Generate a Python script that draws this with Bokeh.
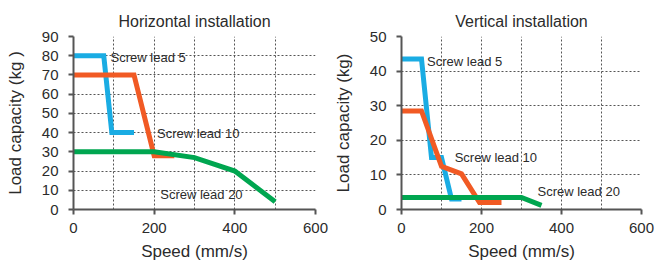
from bokeh.plotting import figure
from bokeh.layouts import row
from bokeh.models import Label, FixedTicker, Range1d
from bokeh.embed import file_html
from bokeh.resources import INLINE

# ---- data ----
# Horizontal installation
h_lead5_x = [0, 75, 95, 150]
h_lead5_y = [80, 80, 40, 40]
h_lead10_x = [0, 150, 200, 250]
h_lead10_y = [70, 70, 28, 28]
h_lead20_x = [0, 200, 300, 400, 500]
h_lead20_y = [30, 30, 27, 20, 4]

# Vertical installation
v_lead5_x = [0, 50, 75, 100, 125, 150]
v_lead5_y = [43.5, 43.5, 15, 15, 3, 3]
v_lead10_x = [0, 50, 100, 150, 195, 250]
v_lead10_y = [28.5, 28.5, 12.5, 10.3, 2, 2]
v_lead20_x = [0, 300, 350]
v_lead20_y = [3.5, 3.5, 1.2]

series_names = ["Screw lead 5", "Screw lead 10", "Screw lead 20"]
colors = ["#1aace3", "#f15a24", "#00a650"]

x_ticks = [0, 200, 400, 600]
x_grid = [100, 200, 300, 400, 500, 600]
h_y_ticks = [0, 10, 20, 30, 40, 50, 60, 70, 80, 90]
v_y_ticks = [0, 10, 20, 30, 40, 50]

# label anchor positions (data coords)
h_label_pos = [(92, 79), (207, 39.7), (215, 7.6)]
v_label_pos = [(64, 42.9), (133, 15.1), (340, 5.2)]

FONT = "Liberation Sans"
TXT = "#2b2b2b"


def make_fig(title, ylabel, ymax, yticks, xs, ys, label_pos, width, mbl, mbr, mbt, mbb):
    p = figure(width=width, height=266, output_backend="svg", toolbar_location=None,
               x_range=Range1d(0, 600), y_range=Range1d(0, ymax),
               min_border_left=mbl, min_border_right=mbr, min_border_top=mbt,
               min_border_bottom=mbb)
    p.title.text = title
    p.title.align = "center"
    p.title.text_font = FONT
    p.title.text_font_size = "16px"
    p.title.text_font_style = "normal"
    p.title.text_color = TXT
    p.title.standoff = 13
    p.title.text_line_height = 0.6
    p.outline_line_color = None
    p.background_fill_color = "white"

    for ax in (p.xaxis[0], p.yaxis[0]):
        ax.axis_line_color = "#555555"
        ax.axis_line_width = 2
        ax.major_tick_line_color = "#555555"
        ax.major_tick_line_width = 2
        ax.major_tick_out = 5
        ax.major_tick_in = 0
        ax.minor_tick_line_color = None
        ax.major_label_text_font = FONT
        ax.major_label_text_font_size = "15px"
        ax.major_label_text_color = TXT
        ax.axis_label_text_font = FONT
        ax.axis_label_text_font_size = "17px"
        ax.axis_label_text_font_style = "normal"
        ax.axis_label_text_color = TXT

    p.xaxis.ticker = FixedTicker(ticks=x_ticks)
    p.yaxis.ticker = FixedTicker(ticks=yticks)
    p.xaxis.axis_label = "Speed (mm/s)"
    p.yaxis.axis_label = ylabel
    p.xaxis.major_label_standoff = 8
    p.xaxis.axis_label_standoff = 6
    p.yaxis.major_label_standoff = 10
    p.yaxis.axis_label_standoff = 14

    p.xgrid.ticker = FixedTicker(ticks=x_grid)
    p.ygrid.ticker = FixedTicker(ticks=yticks[1:])
    for g in (p.xgrid[0], p.ygrid[0]):
        g.grid_line_color = "#555555"
        g.grid_line_dash = "2 2"
        g.grid_line_width = 1

    for x, y, c in zip(xs, ys, colors):
        p.line(x, y, line_color=c, line_width=5, line_join="miter")

    for (lx, ly), name in zip(label_pos, series_names):
        p.add_layout(Label(x=lx, y=ly, text=name, text_font=FONT, text_font_size="13px",
                           text_color=TXT, text_align="left", text_baseline="middle"))
    return p


p1 = make_fig("Horizontal installation", "Load capacity (kg )", 90, h_y_ticks,
              [h_lead5_x, h_lead10_x, h_lead20_x], [h_lead5_y, h_lead10_y, h_lead20_y],
              h_label_pos, 330, 73, 15, 35, 57)
p2 = make_fig("Vertical installation", "Load capacity (kg)", 50, v_y_ticks,
              [v_lead5_x, v_lead10_x, v_lead20_x], [v_lead5_y, v_lead10_y, v_lead20_y],
              v_label_pos, 325, 69, 14, 36, 57)

layout = row(p1, p2, spacing=0)
open("out.html", "w").write(file_html(layout, INLINE))
